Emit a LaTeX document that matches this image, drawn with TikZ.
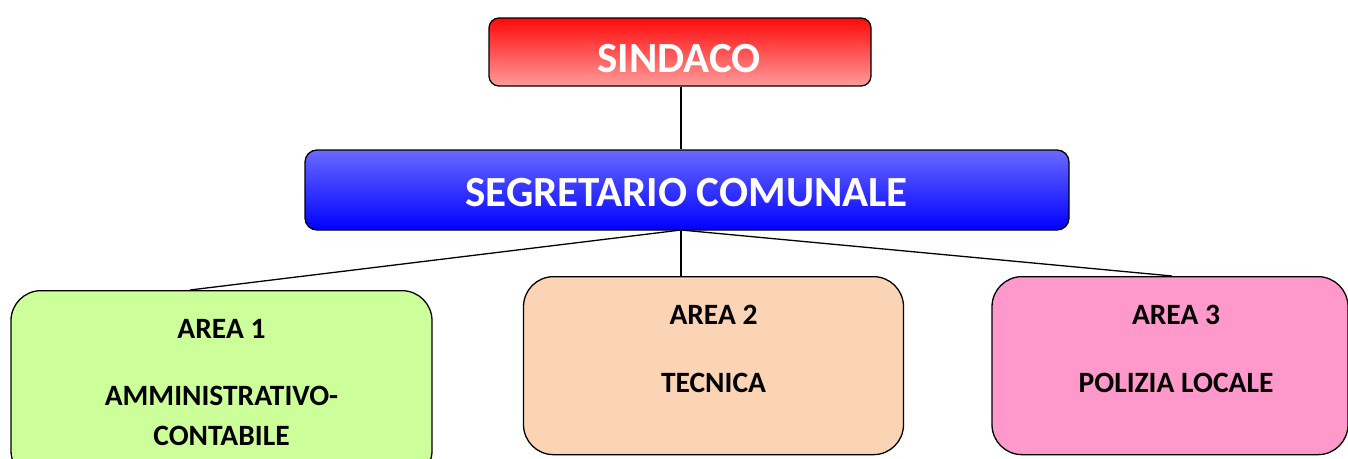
\documentclass[tikz,border=0pt]{standalone}
\usepackage{fontspec}
\setmainfont{Carlito}
\definecolor{areaA}{RGB}{204,255,153}
\definecolor{areaB}{RGB}{250,212,180}
\definecolor{areaC}{RGB}{255,153,204}
\definecolor{redtop}{RGB}{255,10,10}
\definecolor{redbot}{RGB}{255,155,155}
\definecolor{bluetop}{RGB}{105,105,255}
\definecolor{bluebot}{RGB}{0,0,255}
\tikzset{
  box/.style={draw=black, line width=1.3pt, inner sep=0pt},
  areabox/.style={box, rounded corners=30pt},
  conn/.style={draw=black, line width=1.3pt},
  bigtxt/.style={text=white, font=\bfseries\fontsize{43}{50}\selectfont},
  areatxt/.style={text=black, font=\bfseries\fontsize{29.5}{34}\selectfont}
}
\begin{document}
\begin{tikzpicture}[x=1pt,y=-1pt]
\useasboundingbox (0,0) rectangle (1348,458);
% top boxes
\node[box, rounded corners=10pt, top color=redtop, bottom color=redbot,
      minimum width=382pt, minimum height=68pt] (sind) at (680,52) {};
\node[bigtxt] (sindt) at (679,59) {SINDACO};
\node[box, rounded corners=12pt, top color=bluetop, bottom color=bluebot,
      minimum width=764pt, minimum height=80pt] (segr) at (687,190) {};
\node[bigtxt] (segrt) at (686.5,193) {SEGRETARIO COMUNALE};
% area boxes
\node[areabox, fill=areaA, minimum width=421pt, minimum height=190pt, anchor=north] (a1) at (221.5,290) {};
\node[areabox, fill=areaB, minimum width=380pt, minimum height=178pt, anchor=north] (a2) at (713.5,276) {};
\node[areabox, fill=areaC, minimum width=356pt, minimum height=178pt, anchor=north] (a3) at (1170,276) {};
% texts
\node[areatxt] (a1t1) at (221.5,329) {AREA 1};
\node[areatxt] (a1t2) at (221.5,396) {AMMINISTRATIVO-};
\node[areatxt] (a1t3) at (221.5,436) {CONTABILE};
\node[areatxt] (a2t1) at (713.5,315) {AREA 2};
\node[areatxt] (a2t2) at (713.5,383) {TECNICA};
\node[areatxt] (a3t1) at (1176,315) {AREA 3};
\node[areatxt] (a3t2) at (1176,383) {POLIZIA LOCALE};
% connectors
\coordinate (hub) at (681,230);
\draw[conn] (sind.south -| hub) -- (segr.north -| hub);
\draw[conn] (hub) -- (a2.north -| hub);
\draw[conn] (hub) -- ([xshift=-31.5pt]a1.north);
\draw[conn] (hub) -- ([xshift=2pt]a3.north);
\end{tikzpicture}
\end{document}
